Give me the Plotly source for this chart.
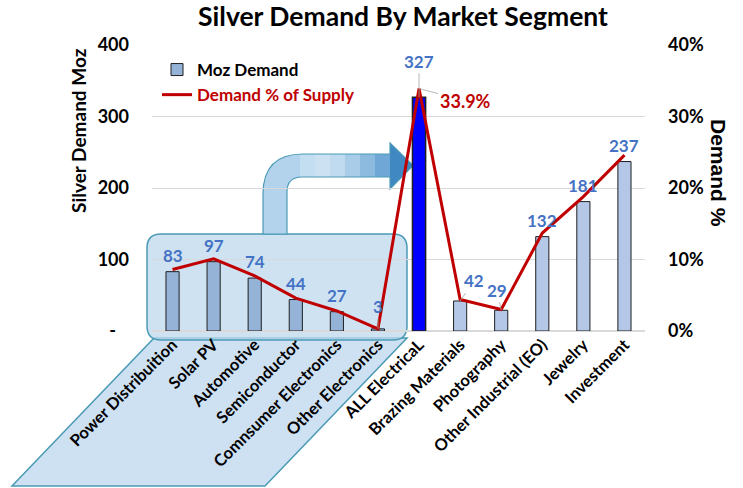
import plotly.graph_objects as go

# Chart data
categories = ["Power Distribuition", "Solar PV", "Automotive", "Semiconductor",
              "Comnsumer Electronics", "Other Electronics", "ALL ElectricaL",
              "Brazing Materials", "Photography", "Other Industrial (EO)",
              "Jewelry", "Investment"]
moz_demand = [83, 97, 74, 44, 27, 3, 327, 42, 29, 132, 181, 237]
pct_of_supply = [8.6, 10.1, 7.7, 4.6, 2.8, 0.3, 33.9, 4.4, 3.0, 13.7, 18.8, 24.6]
left_ticks = [0, 100, 200, 300, 400]
left_tick_text = ["-   ", "100", "200", "300", "400"]
right_ticks = [0, 10, 20, 30, 40]
right_tick_text = ["0%", "10%", "20%", "30%", "40%"]

FONT = "Lato, Carlito, Calibri, sans-serif"
LABEL_BLUE = "#4472C4"
RED = "#C00000"
EDGE = "#4A9AB5"

W, H = 743, 488
L, R, T, B = 152, 98, 45, 157
PW, PH = W - L - R, H - T - B


def px(x):
    return (x - L) / PW


def py(y):
    return (H - B - y) / PH


def path(points):
    # points: list of ("M"/"L"/"Q", coords...) in pixel space
    out = []
    for cmd, *c in points:
        pts = [f"{px(c[i]):.4f},{py(c[i + 1]):.4f}" for i in range(0, len(c), 2)]
        out.append(cmd + " " + " ".join(pts))
    return " ".join(out) + " Z"


bar_colors = ["#95B3D7"] * 6 + ["#0000FF"] + ["#B4C7E7"] * 5
bar_lines = [1] * 6 + [1.5] + [1] * 5

fig = go.Figure()

fig.add_trace(go.Bar(
    x=categories, y=moz_demand, name="Moz Demand",
    width=0.32,
    marker=dict(color=bar_colors, line=dict(color="#1F1F1F", width=bar_lines)),
    hoverinfo="skip",
))
fig.add_trace(go.Scatter(
    x=categories, y=pct_of_supply, name=f"<span style='color:{RED}'>Demand % of Supply</span>",
    mode="lines", line=dict(color=RED, width=3), yaxis="y2",
    hoverinfo="skip",
))

# decorative shapes
shapes = []
# parallelogram under electrical category labels
shapes.append(dict(type="path", xref="paper", yref="paper", layer="below",
                   path=path([("M", 154, 338), ("L", 407, 338), ("L", 265, 486), ("L", 12, 486)]),
                   fillcolor="rgba(196,220,240,0.85)", line=dict(color=EDGE, width=1.5)))
# rounded box around electrical sub-segments
x0, x1, y0, y1, r = 147, 407, 234, 340, 14
shapes.append(dict(type="path", xref="paper", yref="paper", layer="below",
                   path=path([("M", x0 + r, y0), ("L", x1 - r, y0), ("Q", x1, y0, x1, y0 + r),
                              ("L", x1, y1 - r), ("Q", x1, y1, x1 - r, y1), ("L", x0 + r, y1),
                              ("Q", x0, y1, x0, y1 - r), ("L", x0, y0 + r), ("Q", x0, y0, x0 + r, y0)]),
                   fillcolor="rgba(190,216,238,0.75)", line=dict(color=EDGE, width=1.5)))
# curved arrow
arrow_pts = [("M", 263, 234), ("L", 263, 194), ("Q", 263, 154, 303, 154), ("L", 390, 154),
             ("L", 390, 143), ("L", 413, 165.5), ("L", 390, 189), ("L", 390, 177),
             ("L", 302, 177), ("Q", 287, 177, 287, 192), ("L", 287, 234)]
shapes.append(dict(type="path", xref="paper", yref="paper", layer="below",
                   path=path(arrow_pts), fillcolor="#B3D3EC", line=dict(width=0)))
strip_cols = ["#C3DDF1", "#CCE2F3", "#C0DAEF", "#A9CCE8", "#8DBBE0", "#6FA8D6"]
for i, c in enumerate(strip_cols):
    sx0 = 300 + i * 15
    shapes.append(dict(type="rect", xref="paper", yref="paper", layer="below",
                       x0=px(sx0), x1=px(sx0 + 15), y0=py(177), y1=py(154),
                       fillcolor=c, line=dict(width=0)))
shapes.append(dict(type="path", xref="paper", yref="paper", layer="below",
                   path=path([("M", 390, 143), ("L", 413, 165.5), ("L", 390, 189)]),
                   fillcolor="#3F88C2", line=dict(width=0)))
shapes.append(dict(type="path", xref="paper", yref="paper", layer="below",
                   path=path(arrow_pts), fillcolor="rgba(0,0,0,0)", line=dict(color=EDGE, width=1.2)))

# data labels
annotations = []
special = {5: (0, -22), 6: (0, -36), 7: (14, -20), 8: (-4, -20)}
for i, (c, v) in enumerate(zip(categories, moz_demand)):
    if i in special:
        ax, ay = special[i]
        annotations.append(dict(x=c, y=v, text=f"<b>{v}</b>", showarrow=True, arrowhead=0,
                                arrowwidth=0.8, arrowcolor="#A6A6A6", ax=ax, ay=ay, standoff=0,
                                font=dict(family=FONT, size=17, color=LABEL_BLUE)))
    else:
        annotations.append(dict(x=c, y=v, text=f"<b>{v}</b>", showarrow=False, yanchor="bottom",
                                yshift=4, font=dict(family=FONT, size=17, color=LABEL_BLUE)))
annotations.append(dict(x=categories[6], y=pct_of_supply[6], yref="y2",
                        text=f"<b>{pct_of_supply[6]}%</b>", showarrow=True, arrowhead=0,
                        arrowwidth=0.8, arrowcolor="#A6A6A6", ax=46, ay=12, standoff=0,
                        font=dict(family=FONT, size=18, color=RED)))
annotations.append(dict(xref="paper", yref="paper", x=px(78), y=py(131), text="<b>Silver Demand Moz</b>",
                        textangle=-90, showarrow=False, xanchor="center", yanchor="middle",
                        font=dict(family=FONT, size=19, color="black")))
annotations.append(dict(xref="paper", yref="paper", x=px(719), y=py(173), text="<b>Demand %</b>",
                        textangle=90, showarrow=False, xanchor="center", yanchor="middle",
                        font=dict(family="Liberation Sans, Arial, sans-serif", size=21, color="black")))

BOLD_TICK = dict(family=FONT, size=18, color="black", weight="bold")

fig.update_layout(
    width=W, height=H,
    margin=dict(l=L, r=R, t=T, b=B, autoexpand=False),
    paper_bgcolor="white", plot_bgcolor="white",
    font=dict(family=FONT, color="black"),
    title=dict(text="<b>Silver Demand By Market Segment</b>", x=px(403), xref="paper",
               xanchor="center", y=1 - 17 / H, yanchor="middle",
               font=dict(family=FONT, size=26.5, color="black")),
    xaxis=dict(tickangle=-45, tickfont=dict(family=FONT, size=16.5, color="black", weight="bold"),
               showgrid=False, showline=False, ticks="", automargin=False),
    yaxis=dict(range=[0, 400], tickvals=left_ticks, ticktext=left_tick_text,
               tickfont=BOLD_TICK, ticklabelstandoff=22, automargin=False,
               showgrid=True, gridcolor="#D9D9D9", gridwidth=1, zeroline=True,
               zerolinecolor="#D9D9D9", showline=False),
    yaxis2=dict(range=[0, 40], overlaying="y", side="right", tickvals=right_ticks,
                ticktext=right_tick_text, tickfont=BOLD_TICK, automargin=False,
                ticklabelstandoff=22, showgrid=False, zeroline=False, showline=False),
    legend=dict(x=px(157), y=py(52), xanchor="left", yanchor="top", bgcolor="rgba(0,0,0,0)",
                font=dict(family=FONT, size=17, color="black", weight="bold"), tracegroupgap=0),
    shapes=shapes,
    annotations=annotations,
    showlegend=True,
    bargap=0.6,
)

fig.write_html("out.html", config={"displayModeBar": False},
               post_script="document.body.style.margin='0';")
